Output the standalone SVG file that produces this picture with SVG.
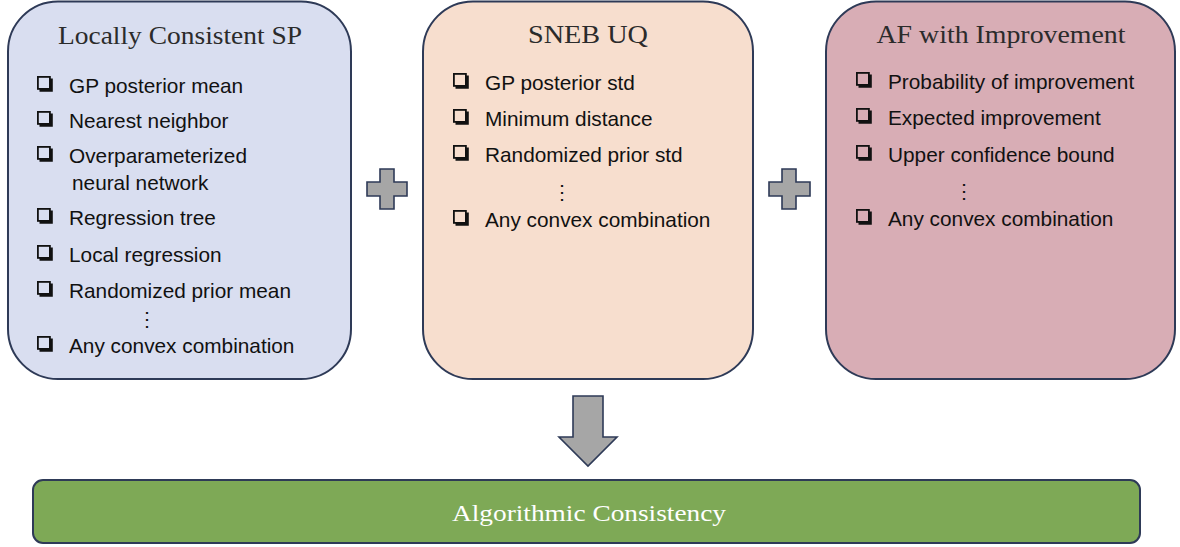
<svg xmlns="http://www.w3.org/2000/svg" xmlns:xlink="http://www.w3.org/1999/xlink" width="1180" height="547" viewBox="0 0 1180 547">
  <style>
    .panel { stroke: #2E3A57; stroke-width: 2; }
    .title { font-family: "Liberation Serif", "DejaVu Serif", serif; font-size: 26px; fill: #2b2b2b; text-anchor: middle; }
    .item { font-family: "Liberation Sans", Arial, sans-serif; font-size: 20.8px; fill: #111; }
    .dots { font-family: "Liberation Sans", Arial, sans-serif; font-size: 20px; fill: #111; text-anchor: middle; }
    .sym { fill: #A6A6A6; stroke: #2E3A57; stroke-width: 1.6; stroke-linejoin: miter; }
    .result { font-family: "Liberation Serif", "DejaVu Serif", serif; font-size: 24px; fill: #ffffff; text-anchor: middle; }
  </style>
  <defs>
    <!-- shadowed checkbox bullet, origin at top-left of the square -->
    <g id="box">
      <rect x="0.9" y="0.9" width="12" height="12" fill="none" stroke="#111" stroke-width="1.8"/>
      <path d="M2.5,14.3 H14.3 V2.5" fill="none" stroke="#111" stroke-width="3"/>
    </g>
  </defs>

  <rect width="1180" height="547" fill="#ffffff"/>

  <g id="node-sp">
    <rect class="panel" x="8" y="1.5" width="343" height="377.5" rx="50" fill="#D9DEF0"/>
    <text class="title" x="180" y="44" textLength="244" lengthAdjust="spacingAndGlyphs">Locally Consistent SP</text>
    <use xlink:href="#box" x="37" y="76"/>
    <text class="item" x="69" y="93">GP posterior mean</text>
    <use xlink:href="#box" x="37" y="111"/>
    <text class="item" x="69" y="128">Nearest neighbor</text>
    <use xlink:href="#box" x="37" y="146"/>
    <text class="item" x="69" y="163">Overparameterized</text>
    <text class="item" x="72" y="190">neural network</text>
    <use xlink:href="#box" x="37" y="208"/>
    <text class="item" x="69" y="225">Regression tree</text>
    <use xlink:href="#box" x="37" y="245"/>
    <text class="item" x="69" y="262">Local regression</text>
    <use xlink:href="#box" x="37" y="281"/>
    <text class="item" x="69" y="298">Randomized prior mean</text>
    <text class="dots" x="147" y="326">⋮</text>
    <use xlink:href="#box" x="37" y="336"/>
    <text class="item" x="69" y="353">Any convex combination</text>
  </g>

  <g id="node-uq">
    <rect class="panel" x="423" y="1.5" width="330" height="377.5" rx="50" fill="#F7DECE"/>
    <text class="title" x="588" y="43" textLength="120" lengthAdjust="spacingAndGlyphs">SNEB UQ</text>
    <use xlink:href="#box" x="453" y="73"/>
    <text class="item" x="485" y="90">GP posterior std</text>
    <use xlink:href="#box" x="453" y="109"/>
    <text class="item" x="485" y="126">Minimum distance</text>
    <use xlink:href="#box" x="453" y="145"/>
    <text class="item" x="485" y="162">Randomized prior std</text>
    <text class="dots" x="562" y="199">⋮</text>
    <use xlink:href="#box" x="453" y="210"/>
    <text class="item" x="485" y="227">Any convex combination</text>
  </g>

  <g id="node-af">
    <rect class="panel" x="826" y="1.5" width="349" height="377.5" rx="50" fill="#D8ADB5"/>
    <text class="title" x="1001" y="43" textLength="249" lengthAdjust="spacingAndGlyphs">AF with Improvement</text>
    <use xlink:href="#box" x="856" y="72"/>
    <text class="item" x="888" y="89">Probability of improvement</text>
    <use xlink:href="#box" x="856" y="108"/>
    <text class="item" x="888" y="125">Expected improvement</text>
    <use xlink:href="#box" x="856" y="145"/>
    <text class="item" x="888" y="162">Upper confidence bound</text>
    <text class="dots" x="964" y="198">⋮</text>
    <use xlink:href="#box" x="856" y="209"/>
    <text class="item" x="888" y="226">Any convex combination</text>
  </g>

  <g id="node-result">
    <rect class="panel" x="33" y="480" width="1107" height="63" rx="10" fill="#7EA956"/>
    <text class="result" x="589" y="521" textLength="274" lengthAdjust="spacingAndGlyphs">Algorithmic Consistency</text>
  </g>

  <g id="connectors">
    <path class="sym" d="M380,169 H394 V182 H407 V196 H394 V209 H380 V196 H367 V182 H380 Z"/>
    <path class="sym" d="M782,169 H796 V182 H810 V196 H796 V209 H782 V196 H769 V182 H782 Z"/>
    <path class="sym" d="M573,396 H603 V437 H617 L588,466 L559,437 H573 Z"/>
  </g>
</svg>
